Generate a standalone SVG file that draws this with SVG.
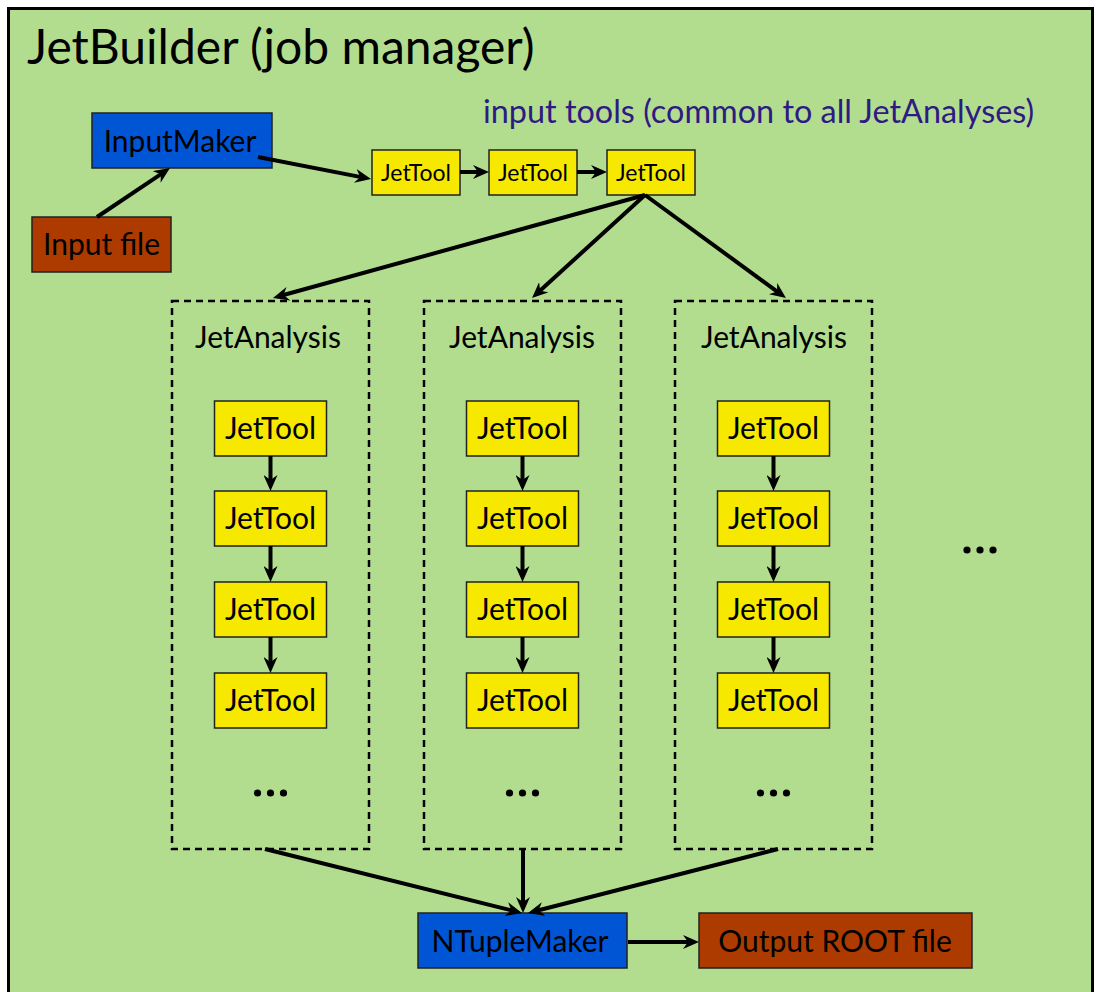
<svg xmlns="http://www.w3.org/2000/svg" width="1096" height="992" viewBox="0 0 1096 992">
  <defs>
    <marker id="ah" viewBox="0 0 16 14" refX="6" refY="7" markerWidth="16" markerHeight="14" markerUnits="userSpaceOnUse" orient="auto">
      <path d="M0,0 L16,7 L0,14 L5,7 z" fill="#000"/>
    </marker>
    <style>
      text { font-family: Lato, "Open Sans", "Liberation Sans", sans-serif; fill: #000; }
      .box { stroke: #222; stroke-width: 1.5; }
      .blue { fill: #0055d5; }
      .brown { fill: #ad3b00; }
      .yellow { fill: #f7e800; }
      .dash { fill: none; stroke: #000; stroke-width: 2.5; stroke-dasharray: 7 5; }
      .lbl { font-size: 30px; text-anchor: middle; }
      .small { font-size: 23px; text-anchor: middle; }
      .conn line { stroke: #000; stroke-width: 4; marker-end: url(#ah); }
      .dots circle { fill: #000; }
    </style>
  </defs>

  <rect x="8.5" y="8.5" width="1084" height="1000" fill="#b2dd8f" stroke="#000" stroke-width="3"/>
  <text x="27" y="64" font-size="48">JetBuilder (job manager)</text>
  <text x="483" y="123" font-size="32.4" style="fill:#2e1a82">input tools (common to all JetAnalyses)</text>

  <g id="inputmaker">
    <rect class="box blue" x="92" y="113" width="180" height="55"/>
    <text class="lbl" x="180" y="152" font-size="31">InputMaker</text>
  </g>
  <g id="inputfile">
    <rect class="box brown" x="32" y="217" width="139" height="55"/>
    <text class="lbl" x="101.5" y="255" font-size="31">Input file</text>
  </g>

  <g id="tool-in-1">
    <rect class="box yellow" x="372" y="150" width="88" height="45"/>
    <text class="small" x="416" y="181">JetTool</text>
  </g>
  <g id="tool-in-2">
    <rect class="box yellow" x="489" y="150" width="88" height="45"/>
    <text class="small" x="533" y="181">JetTool</text>
  </g>
  <g id="tool-in-3">
    <rect class="box yellow" x="607" y="150" width="88" height="45"/>
    <text class="small" x="651" y="181">JetTool</text>
  </g>

  <g id="analysis-1">
    <rect class="dash" x="172" y="301" width="197" height="548"/>
    <text class="lbl" x="268" y="348" font-size="31">JetAnalysis</text>
    <rect class="box yellow" x="214.5" y="401" width="112" height="55"/>
    <text class="lbl" x="270.5" y="439">JetTool</text>
    <rect class="box yellow" x="214.5" y="491" width="112" height="55"/>
    <text class="lbl" x="270.5" y="529">JetTool</text>
    <rect class="box yellow" x="214.5" y="582" width="112" height="55"/>
    <text class="lbl" x="270.5" y="620">JetTool</text>
    <rect class="box yellow" x="214.5" y="673" width="112" height="55"/>
    <text class="lbl" x="270.5" y="711">JetTool</text>
    <g class="dots"><circle cx="257.5" cy="793" r="3.6"/><circle cx="270.5" cy="793" r="3.6"/><circle cx="283.5" cy="793" r="3.6"/></g>
  </g>

  <g id="analysis-2">
    <rect class="dash" x="424" y="301" width="197" height="548"/>
    <text class="lbl" x="522" y="348" font-size="31">JetAnalysis</text>
    <rect class="box yellow" x="466.5" y="401" width="112" height="55"/>
    <text class="lbl" x="522.5" y="439">JetTool</text>
    <rect class="box yellow" x="466.5" y="491" width="112" height="55"/>
    <text class="lbl" x="522.5" y="529">JetTool</text>
    <rect class="box yellow" x="466.5" y="582" width="112" height="55"/>
    <text class="lbl" x="522.5" y="620">JetTool</text>
    <rect class="box yellow" x="466.5" y="673" width="112" height="55"/>
    <text class="lbl" x="522.5" y="711">JetTool</text>
    <g class="dots"><circle cx="509.5" cy="793" r="3.6"/><circle cx="522.5" cy="793" r="3.6"/><circle cx="535.5" cy="793" r="3.6"/></g>
  </g>

  <g id="analysis-3">
    <rect class="dash" x="675" y="301" width="197" height="548"/>
    <text class="lbl" x="774" y="348" font-size="31">JetAnalysis</text>
    <rect class="box yellow" x="717.5" y="401" width="112" height="55"/>
    <text class="lbl" x="773.5" y="439">JetTool</text>
    <rect class="box yellow" x="717.5" y="491" width="112" height="55"/>
    <text class="lbl" x="773.5" y="529">JetTool</text>
    <rect class="box yellow" x="717.5" y="582" width="112" height="55"/>
    <text class="lbl" x="773.5" y="620">JetTool</text>
    <rect class="box yellow" x="717.5" y="673" width="112" height="55"/>
    <text class="lbl" x="773.5" y="711">JetTool</text>
    <g class="dots"><circle cx="760.5" cy="793" r="3.6"/><circle cx="773.5" cy="793" r="3.6"/><circle cx="786.5" cy="793" r="3.6"/></g>
  </g>

  <g id="more-analyses" class="dots">
    <circle cx="967" cy="550" r="3.6"/><circle cx="980" cy="550" r="3.6"/><circle cx="993" cy="550" r="3.6"/>
  </g>

  <g id="ntuplemaker">
    <rect class="box blue" x="418" y="913" width="209" height="55"/>
    <text class="lbl" x="520" y="952" font-size="31.5">NTupleMaker</text>
  </g>
  <g id="outputfile">
    <rect class="box brown" x="699" y="913" width="273" height="55"/>
    <text class="lbl" x="835" y="952" font-size="33">Output ROOT file</text>
  </g>

  <g id="connectors" class="conn">
    <line x1="97" y1="217" x2="161.7" y2="173.6"/>
    <line x1="258" y1="157" x2="361.2" y2="177.1"/>
    <line x1="460" y1="172" x2="479" y2="172"/>
    <line x1="577" y1="172" x2="597" y2="172"/>
    <line x1="645" y1="195" x2="282.6" y2="295.3"/>
    <line x1="645" y1="195" x2="539.4" y2="291.3"/>
    <line x1="645" y1="195" x2="777.9" y2="292.1"/>
    <line x1="270.5" y1="456" x2="270.5" y2="481"/>
    <line x1="270.5" y1="546" x2="270.5" y2="572"/>
    <line x1="270.5" y1="637" x2="270.5" y2="663"/>
    <line x1="522.5" y1="456" x2="522.5" y2="481"/>
    <line x1="522.5" y1="546" x2="522.5" y2="572"/>
    <line x1="522.5" y1="637" x2="522.5" y2="663"/>
    <line x1="773.5" y1="456" x2="773.5" y2="481"/>
    <line x1="773.5" y1="546" x2="773.5" y2="572"/>
    <line x1="773.5" y1="637" x2="773.5" y2="663"/>
    <line x1="265" y1="849" x2="512.3" y2="910.6"/>
    <line x1="523" y1="849" x2="523" y2="903"/>
    <line x1="778" y1="849" x2="537.7" y2="910.5"/>
    <line x1="628" y1="942" x2="689" y2="942"/>
  </g>
</svg>
